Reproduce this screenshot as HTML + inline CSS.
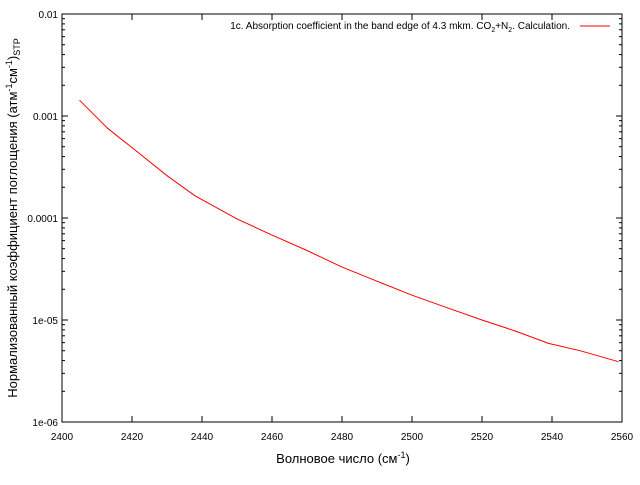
<!DOCTYPE html>
<html><head><meta charset="utf-8"><style>
html,body{margin:0;padding:0;background:#fff;}
svg text{font-family:"Liberation Sans","DejaVu Sans",sans-serif;fill:#000;}
</style></head><body>
<svg id="chart" width="640" height="480" xmlns="http://www.w3.org/2000/svg">
<g id="axes"></g>
<rect x="62" y="14" width="560" height="408" fill="none" stroke="#000" stroke-width="1"/>
<path id="curve" fill="none" stroke="#ff0000" stroke-width="1"/>
<text x="570" y="29" font-size="10" text-anchor="end">1c. Absorption coefficient in the band edge of 4.3 mkm. CO<tspan font-size="7" dy="3">2</tspan><tspan dy="-3">+N</tspan><tspan font-size="7" dy="3">2</tspan><tspan dy="-3">. Calculation.</tspan></text>
<line x1="580" y1="26" x2="610" y2="26" stroke="#ff0000" stroke-width="1"/>
<text x="343" y="463" font-size="13" text-anchor="middle">Волновое число (см<tspan font-size="9" dy="-5">-1</tspan><tspan dy="5">)</tspan></text>
<text transform="translate(17,218) rotate(-90)" font-size="13" text-anchor="middle">Нормализованный коэффициент поглощения (атм<tspan font-size="9" dy="-5">-1</tspan><tspan dy="5">см</tspan><tspan font-size="9" dy="-5">-1</tspan><tspan dy="5">)</tspan><tspan font-size="9" dy="3">STP</tspan></text>
</svg>
<script>
const xVals=[2405,2413,2421,2430,2438,2450,2460,2470,2480,2490,2500,2510,2520,2530,2539,2548,2559];
const yVals=[1.43e-3,7.6e-4,4.6e-4,2.6e-4,1.65e-4,9.8e-5,6.8e-5,4.8e-5,3.3e-5,2.4e-5,1.75e-5,1.32e-5,1.0e-5,7.7e-6,5.9e-6,5.0e-6,3.9e-6];
const xTicks=[2400,2420,2440,2460,2480,2500,2520,2540,2560];
const yTickLabels=["1e-06","1e-05","0.0001","0.001","0.01"];
const yTickExps=[-6,-5,-4,-3,-2];
const L=62,R=622,T=14,B=422;
const X=v=>L+(v-2400)/(2560-2400)*(R-L);
const Y=v=>B-(Math.log10(v)+6)/4*(B-T);
const NS="http://www.w3.org/2000/svg";
const axes=document.getElementById('axes');
function mk(tag,attrs){const e=document.createElementNS(NS,tag);for(const k in attrs)e.setAttribute(k,attrs[k]);axes.appendChild(e);return e;}
xTicks.forEach(t=>{
  const x=X(t);
  const a=mk('line',{x1:x,y1:B,x2:x,y2:B-6,stroke:'#000'});
  
  
  const b=mk('line',{x1:x,y1:T,x2:x,y2:T+6,stroke:'#000'});
  
  
  const tx=mk('text',{x:x,y:B+18,'font-size':10,'text-anchor':'middle'});
  tx.textContent=t;
  
  
});
yTickExps.forEach((e,i)=>{
  const y=Y(Math.pow(10,e));
  const a=mk('line',{x1:L,y1:y,x2:L+6,y2:y,stroke:'#000'});
  
  
  const b=mk('line',{x1:R,y1:y,x2:R-6,y2:y,stroke:'#000'});
  
  
  const tx=mk('text',{x:L-4,y:y+4,'font-size':10,'text-anchor':'end'});
  tx.textContent=yTickLabels[i];
  
  
  if(e<-2){for(let m=2;m<10;m++){
    const ym=Y(m*Math.pow(10,e));
    const c=mk('line',{x1:L,y1:ym,x2:L+3,y2:ym,stroke:'#000'});
    
    
    const d=mk('line',{x1:R,y1:ym,x2:R-3,y2:ym,stroke:'#000'});
    
    
  }}
});
document.getElementById('curve').setAttribute('d',xVals.map((v,i)=>(i?'L':'M')+X(v).toFixed(1)+','+Y(yVals[i]).toFixed(1)).join(' '));
</script>
</body></html>
